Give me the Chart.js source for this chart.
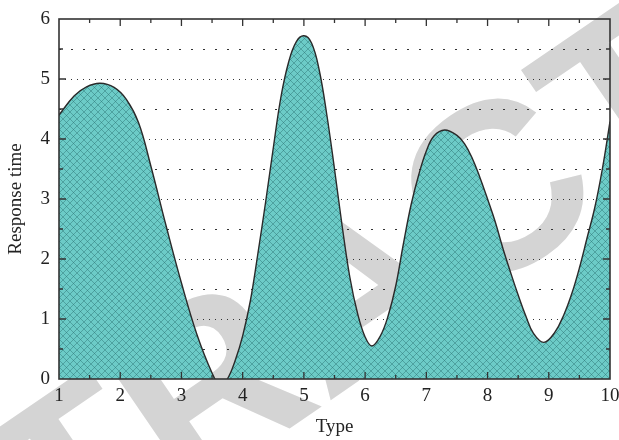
<!DOCTYPE html>
<html>
<head>
<meta charset="utf-8">
<script src="https://cdn.jsdelivr.net/npm/chart.js@4.4.0/dist/chart.umd.min.js"></script>
<style>
html, body { margin: 0; padding: 0; background: #fff; }
#wrap { width: 619px; height: 440px; }
</style>
</head>
<body>
<div id="wrap"><canvas id="chart" width="619" height="440"></canvas></div>
<script>
// values
const typeValues = [1.00, 1.25, 1.45, 1.67, 1.90, 2.10, 2.30, 2.50, 2.75, 3.00, 3.25, 3.50, 3.63,
    3.75, 3.875, 4.00, 4.125, 4.25, 4.375, 4.50, 4.625, 4.75, 4.875, 5.00,
    5.125, 5.25, 5.375, 5.50, 5.625, 5.75, 5.875, 6.00, 6.11,
    6.25, 6.375, 6.50, 6.625, 6.75, 6.875, 7.00, 7.125, 7.30,
    7.50, 7.625, 7.75, 7.875, 8.00, 8.125, 8.25, 8.375, 8.50, 8.625, 8.75, 8.92,
    9.10, 9.25, 9.375, 9.50, 9.625, 9.75, 9.875, 10.00];
const responseTimes = [4.40, 4.72, 4.87, 4.93, 4.86, 4.66, 4.27, 3.55, 2.55, 1.60, 0.75, 0.10, -0.10,
    0.00, 0.30, 0.72, 1.30, 2.10, 2.95, 3.85, 4.70, 5.28, 5.62, 5.72,
    5.60, 5.15, 4.40, 3.50, 2.55, 1.70, 1.10, 0.70, 0.55,
    0.72, 1.05, 1.55, 2.25, 2.90, 3.40, 3.80, 4.05, 4.15,
    4.06, 3.92, 3.68, 3.36, 3.00, 2.62, 2.18, 1.78, 1.40, 1.05, 0.76, 0.61,
    0.78, 1.08, 1.42, 1.85, 2.35, 2.85, 3.50, 4.29];
const xTicks = [1, 2, 3, 4, 5, 6, 7, 8, 9, 10];
const yTicks = [0, 1, 2, 3, 4, 5, 6];
const watermarkText = 'RETRACTED';

const serif = '"Liberation Serif", "DejaVu Serif", serif';

function makeHatch() {
    const size = 7;
    const c = document.createElement('canvas');
    c.width = size;
    c.height = size;
    const g = c.getContext('2d');
    g.fillStyle = '#6ccbc7';
    g.fillRect(0, 0, size, size);
    g.strokeStyle = 'rgba(40, 110, 110, 0.55)';
    g.lineWidth = 0.8;
    g.beginPath();
    g.moveTo(0, 0); g.lineTo(size, size);
    g.moveTo(size, 0); g.lineTo(0, size);
    g.stroke();
    return g.createPattern(c, 'repeat');
}

const framePlugin = {
    id: 'frame',
    beforeDraw(chart) {
        const ctx = chart.ctx;
        ctx.save();
        ctx.fillStyle = '#d4d4d4';
        ctx.font = 'bold 240px "Liberation Sans"';
        ctx.translate(360, 300);
        ctx.rotate(-0.6);
        ctx.textAlign = 'center';
        ctx.textBaseline = 'middle';
        ctx.fillText(watermarkText, 0, 0);
        ctx.restore();
    },
    beforeDatasetsDraw(chart) {
        // dotted grid, denser on whole numbers
        const {ctx, chartArea, scales: {y}} = chart;
        ctx.save();
        ctx.strokeStyle = '#333';
        ctx.lineWidth = 1;
        yTicks.forEach(v => {
            [v, v + 0.5].forEach(val => {
                if (val <= y.min || val >= y.max) return;
                const py = Math.round(y.getPixelForValue(val)) + 0.5;
                ctx.setLineDash(val % 1 === 0 ? [1, 5] : [2, 10]);
                ctx.beginPath();
                ctx.moveTo(chartArea.left, py);
                ctx.lineTo(chartArea.right, py);
                ctx.stroke();
            });
        });
        ctx.restore();
    },
    afterDatasetsDraw(chart) {
        const {ctx, chartArea: a, scales: {x, y}} = chart;
        ctx.save();
        ctx.strokeStyle = '#333';
        ctx.lineWidth = 1.3;
        ctx.beginPath();
        xTicks.forEach(v => {
            [[v, 7], [v + 0.5, 4]].forEach(([val, len]) => {
                if (val <= x.min || val >= x.max) return;
                const px = x.getPixelForValue(val);
                ctx.moveTo(px, a.bottom); ctx.lineTo(px, a.bottom - len);
                ctx.moveTo(px, a.top); ctx.lineTo(px, a.top + len);
            });
        });
        yTicks.forEach(v => {
            [[v, 7], [v + 0.5, 4]].forEach(([val, len]) => {
                if (val <= y.min || val >= y.max) return;
                const py = y.getPixelForValue(val);
                ctx.moveTo(a.left, py); ctx.lineTo(a.left + len, py);
                ctx.moveTo(a.right, py); ctx.lineTo(a.right - len, py);
            });
        });
        ctx.stroke();
        ctx.lineWidth = 1.6;
        ctx.strokeRect(a.left, a.top, a.right - a.left, a.bottom - a.top);
        ctx.restore();
    }
};

function initResponseChart() {
    const points = typeValues.map((t, i) => ({x: t, y: responseTimes[i]}));

    new Chart(document.getElementById('chart'), {
        type: 'line',
        data: {
            datasets: [{
                data: points,
                fill: 'origin',
                backgroundColor: makeHatch(),
                borderColor: '#2a2a2a',
                borderWidth: 1.4,
                pointRadius: 0,
                tension: 0.4
            }]
        },
        options: {
            responsive: false,
            animation: false,
            layout: {padding: {top: 19, right: 9, bottom: 0, left: 0}},
            plugins: {legend: {display: false}, tooltip: {enabled: false}},
            scales: {
                x: {
                    type: 'linear',
                    min: 1,
                    max: 10,
                    afterFit: s => { s.height = 61; s.paddingLeft = 0; s.paddingRight = 0; },
                    afterBuildTicks: s => { s.ticks = xTicks.map(v => ({value: v})); },
                    grid: {display: false, drawTicks: false},
                    border: {display: false},
                    ticks: {padding: 6, color: '#222', font: {family: serif, size: 19}, maxRotation: 0},
                    title: {display: true, text: 'Type', color: '#222', font: {family: serif, size: 19}, padding: {top: 0, bottom: 2}}
                },
                y: {
                    min: 0,
                    max: 6,
                    afterFit: s => { s.width = 59; s.paddingTop = 0; s.paddingBottom = 0; },
                    afterBuildTicks: s => { s.ticks = yTicks.map(v => ({value: v})); },
                    grid: {display: false, drawTicks: false},
                    border: {display: false},
                    ticks: {padding: 9, color: '#222', font: {family: serif, size: 19}},
                    title: {display: true, text: 'Response time', color: '#222', font: {family: serif, size: 19}, padding: {top: 5, bottom: 0}}
                }
            }
        },
        plugins: [framePlugin]
    });
}

initResponseChart();
</script>
</body>
</html>
